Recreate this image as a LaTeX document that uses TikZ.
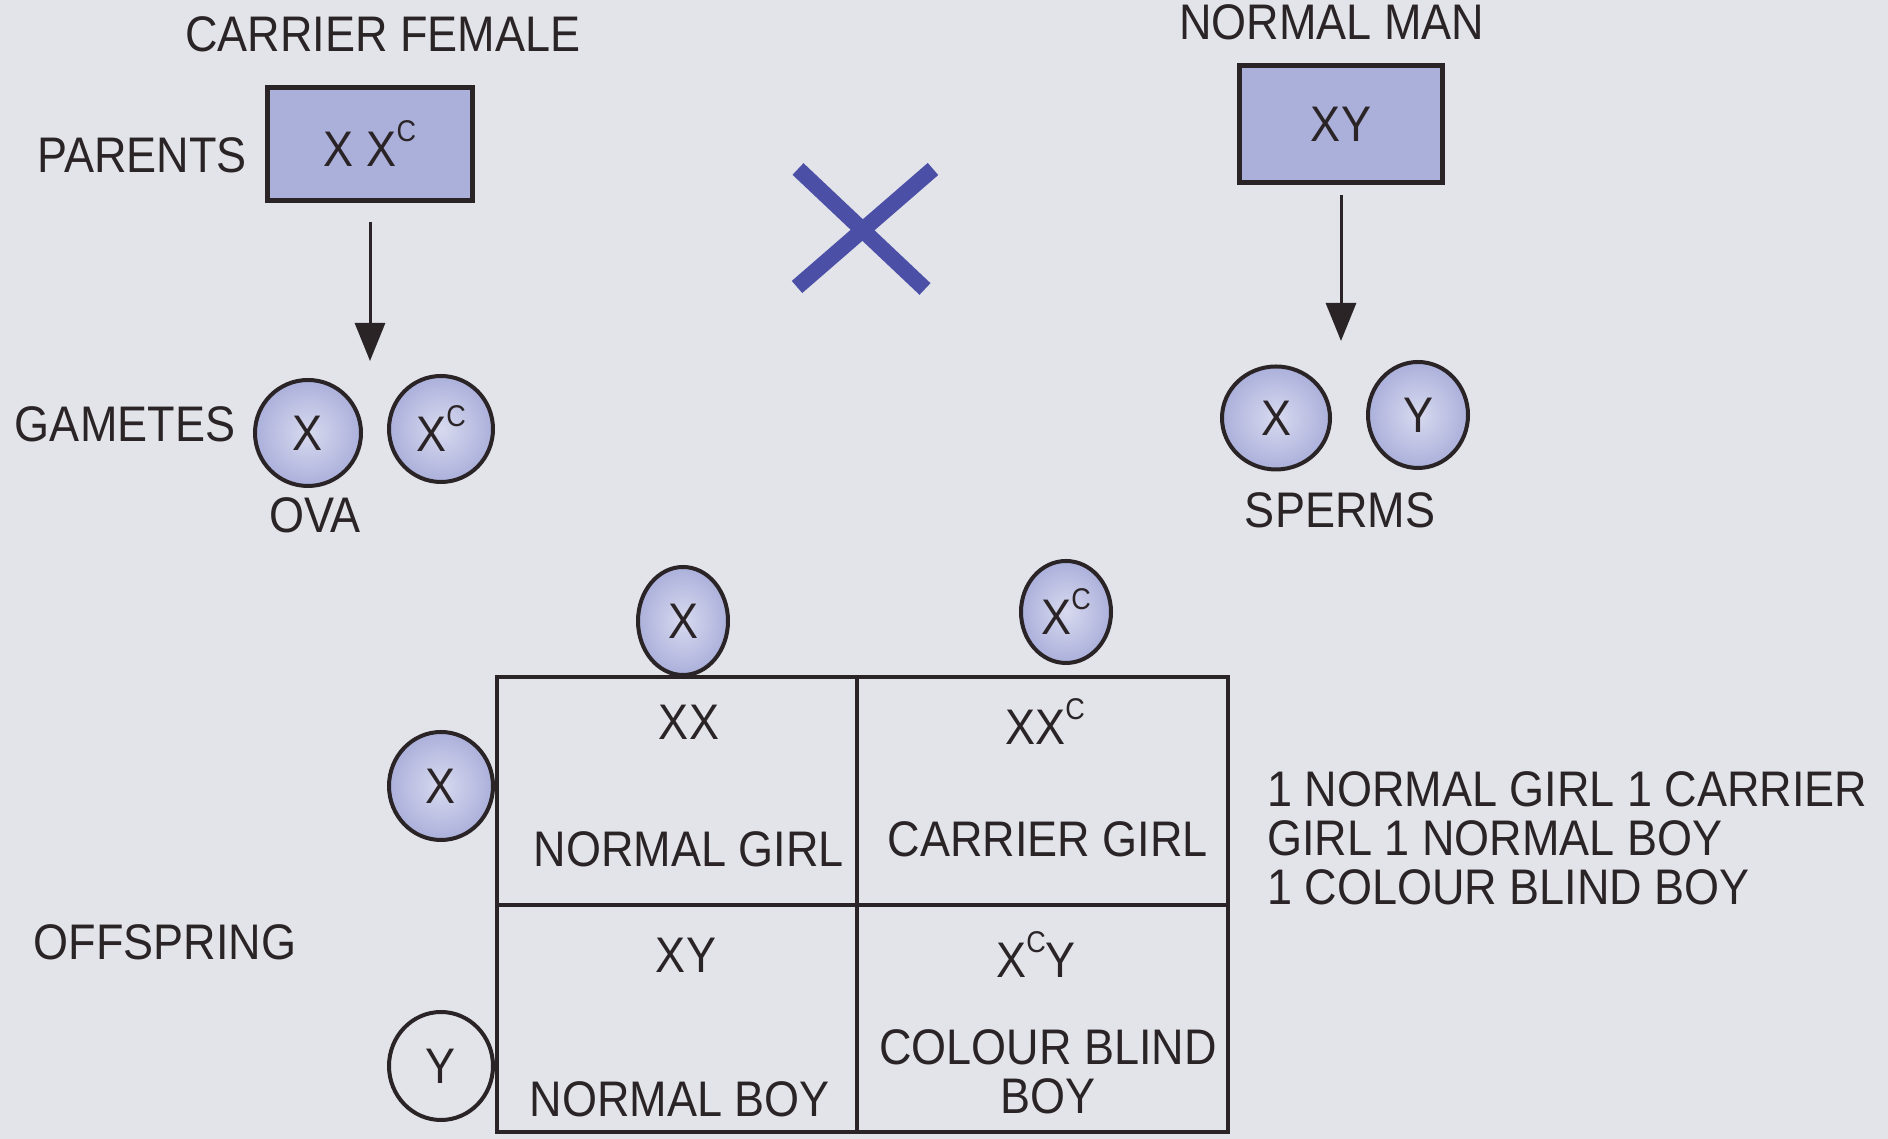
\documentclass[tikz,border=0pt]{standalone}
\usepackage{fontspec}
\setmainfont{Liberation Sans}[FakeStretch=0.9]
\usetikzlibrary{shapes.geometric,arrows.meta}
\definecolor{paper}{HTML}{E2E4EA}
\definecolor{ink}{HTML}{2A2426}
\definecolor{lilac}{HTML}{ABB0DB}
\definecolor{lilacl}{HTML}{D8DAEF}
\definecolor{crossblue}{HTML}{4B4FA6}
\newcommand{\carrierc}{\raisebox{25pt}{\fontsize{30}{30}\selectfont C}}
\tikzset{
  lbl/.style={font=\fontsize{50}{49}\selectfont, text=ink, inner sep=0pt},
  chrombox/.style={lbl, draw=ink, line width=5pt, fill=lilac, minimum width=205pt, minimum height=113pt},
  gamete/.style={lbl, ellipse, draw=ink, line width=4pt, inner color=lilacl, outer color=lilac},
  emptygamete/.style={lbl, ellipse, draw=ink, line width=4pt},
  downarrow/.style={draw=ink, line width=3pt, -{Triangle[width=30pt,length=38pt]}}
}

\begin{document}
\begin{tikzpicture}[x=1pt,y=1pt]
\fill[paper] (0,0) rectangle (1888,1139);
\useasboundingbox (0,0) rectangle (1888,1139);
%-------->female side<--------------
\node[lbl] (cfemale) at (383,1105) {CARRIER FEMALE};
\node[chrombox] (fbox) at (370,995) {X X\carrierc};
\node[lbl] (parents) at (142,984) {PARENTS};
\node[lbl] (gametes) at (125,715) {GAMETES};
\node[gamete, minimum width=106pt, minimum height=106pt] (ovx) at (308,706) {X};
\node[gamete, minimum width=104pt, minimum height=106pt] (ovxc) at (441,710) {X\carrierc};
\node[lbl] (ova) at (315,624) {OVA};
\coordinate (ftip) at (370,778);
\draw[downarrow, shorten <=19pt] (fbox) -- (ftip);
%-------->cross<--------------
\draw[crossblue, line width=16pt] (798,970) -- (925,850);
\draw[crossblue, line width=16pt] (933,970) -- (797,852);
%-------->male side<--------------
\node[lbl] (nman) at (1332,1117) {NORMAL MAN};
\node[chrombox, minimum width=203pt, minimum height=117pt] (mbox) at (1341,1015) {XY};
\node[gamete, minimum width=108pt, minimum height=103pt] (spx) at (1276,721) {X};
\node[gamete, minimum width=100pt, minimum height=106pt] (spy) at (1418,724) {Y};
\node[lbl] (sperms) at (1340,629) {SPERMS};
\coordinate (mtip) at (1341,798);
\draw[downarrow, shorten <=10pt] (mbox) -- (mtip);
%-------->punnett square<--------------
\draw[ink, line width=4pt] (497,7) rectangle (1228,462);
\draw[ink, line width=4pt] (857,7) -- (857,462);
\draw[ink, line width=4pt] (497,234) -- (1228,234);
\node[gamete, minimum width=90pt, minimum height=108pt] (topx) at (683,518) {X};
\node[gamete, minimum width=90pt, minimum height=102pt] (topxc) at (1066,527) {X\carrierc};
\node[gamete, minimum width=104pt, minimum height=108pt] (leftx) at (441,353) {X};
\node[emptygamete, minimum width=104pt, minimum height=108pt] (lefty) at (441,73) {Y};
%-------->cell texts<--------------
\node[lbl] (xx) at (689,417) {XX};
\node[lbl] (ngirl) at (689,290) {NORMAL GIRL};
\node[lbl] (xxc) at (1045,417) {XX\carrierc};
\node[lbl] (cgirl) at (1048,300) {CARRIER GIRL};
\node[lbl] (xy) at (686,184) {XY};
\node[lbl] (nboy) at (680,40) {NORMAL BOY};
\node[lbl] (xcy) at (1036,184) {X\carrierc Y};
\node[lbl, align=center] (cbboy) at (1048,67) {COLOUR BLIND\\BOY};
%-------->side texts<--------------
\node[lbl] (offspring) at (165,197) {OFFSPRING};
\node[lbl, anchor=north west, align=left] (ratio) at (1267,368)
  {1 NORMAL GIRL 1 CARRIER\\GIRL 1 NORMAL BOY\\1 COLOUR BLIND BOY};
\end{tikzpicture}
\end{document}
